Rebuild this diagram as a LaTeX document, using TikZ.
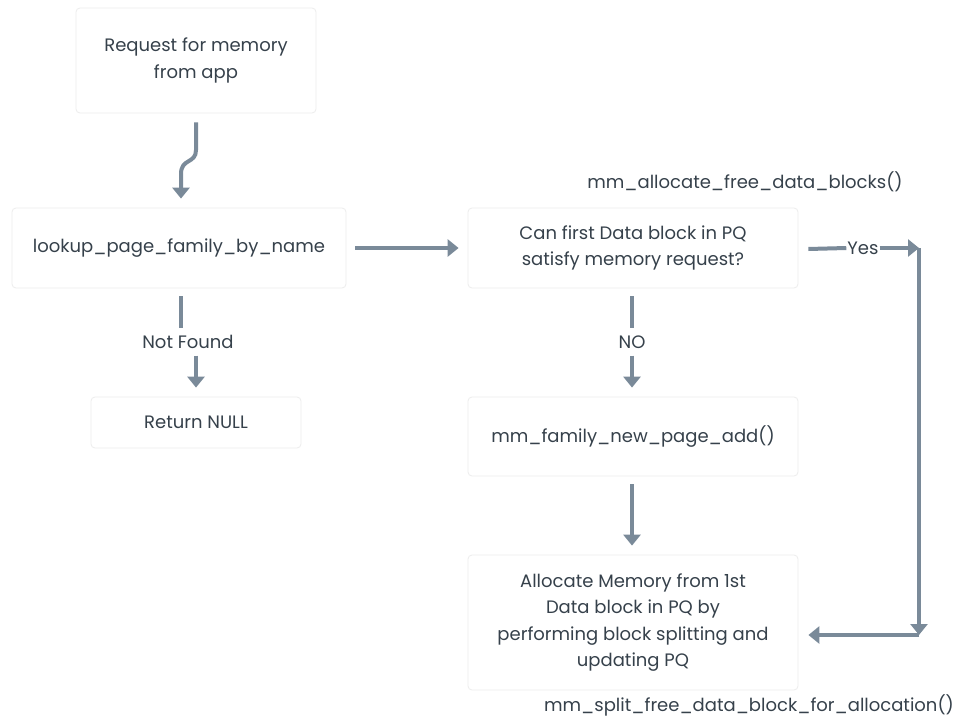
\documentclass[tikz,border=0pt]{standalone}
\usepackage{fontspec}
\setmainfont{Poppins}
\usetikzlibrary{arrows.meta,calc}
\definecolor{txt}{HTML}{36414B}
\definecolor{arr}{HTML}{7A8A99}
\definecolor{bd}{HTML}{EDEDED}
\begin{document}
\begin{tikzpicture}[x=1pt,y=-1pt,
 box/.style={draw=bd, line width=0.8pt, rounded corners=4pt, fill=white, text=txt,
   font=\fontsize{18}{26.5}\selectfont, align=center, inner sep=0pt},
 lbl/.style={text=txt, font=\fontsize{18}{26.5}\selectfont, inner sep=1pt},
 conn/.style={draw=arr, line width=4pt},
 arrow/.style={conn, -{Triangle[width=17pt,length=11pt]}}]
\useasboundingbox[fill=white] (0,0) rectangle (959,717);
\node[box, minimum width=240pt, minimum height=105pt] (req) at (196,60.5) {Request for memory\\from app};
\node[box, minimum width=334pt, minimum height=80pt] (look) at (179,248) {lookup\_page\_family\_by\_name};
\node[box, minimum width=330pt, minimum height=80pt] (cond) at (633,248) {Can first Data block in PQ\\satisfy memory request?};
\node[box, minimum width=210pt, minimum height=51pt] (ret) at (196,422.5) {Return NULL};
\node[box, minimum width=330pt, minimum height=79pt] (nfp) at (633,436.5) {mm\_family\_new\_page\_add()};
\node[box, minimum width=330pt, minimum height=135pt] (alloc) at (633,622.5) {Allocate Memory from 1st\\Data block in PQ by\\performing block splitting and\\updating PQ};
\node[lbl] (nf) at (188,342) {Not Found};
\node[lbl] (no) at (632,342) {NO};
\node[lbl] (yes) at (863,248) {Yes};
\node[lbl] (fa) at (745,182) {mm\_allocate\_free\_data\_blocks()};
\node[lbl] (fs) at (749,705) {mm\_split\_free\_data\_block\_for\_allocation()};
\coordinate (corner) at (919,635);
% connectors
\draw[arrow] ($(req.south)+(0,9)$) -- (196,150) .. controls (196,164) and (181,158) .. (181,174) -- ($(look.north)+(2,-9)$);
\draw[arrow] ($(look.east)+(9,0)$) -- ($(cond.west)+(-9,0)$);
\draw[conn] ($(look.south)+(2,8)$) -- ($(look.south)+(2,40)$);
\draw[arrow] ($(ret.north)+(0,-41)$) -- ($(ret.north)+(0,-9)$);
\draw[conn] ($(cond.south)+(-1,8)$) -- ($(cond.south)+(-1,40)$);
\draw[arrow] ($(nfp.north)+(-1,-41)$) -- ($(nfp.north)+(-1,-9)$);
\draw[arrow] ($(nfp.south)+(-1,8)$) -- ($(alloc.north)+(-1,-9)$);
\draw[conn] ($(cond.east)+(10,1)$) -- (yes.west);
\draw[arrow] (yes.east) -- (corner |- yes.east);
\draw[arrow] (corner |- yes.east) -- (corner);
\draw[arrow] (corner) -- ($(alloc.east |- corner)+(10,0)$);
\end{tikzpicture}
\end{document}
